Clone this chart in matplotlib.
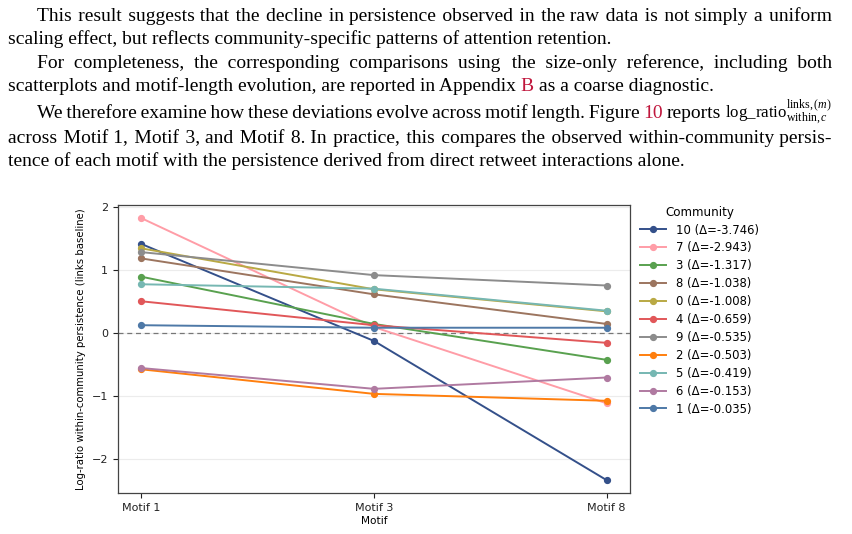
import matplotlib
matplotlib.use("Agg")
import matplotlib.pyplot as plt

# ---------------- data ----------------
motifs = ["Motif 1", "Motif 3", "Motif 8"]
communities = ["10", "7", "3", "8", "0", "4", "9", "2", "5", "6", "1"]
deltas = [-3.746, -2.943, -1.317, -1.038, -1.008, -0.659, -0.535, -0.503, -0.419, -0.153, -0.035]
vals_c10 = [1.42, -0.12, -2.33]
vals_c7 = [1.83, 0.10, -1.11]
vals_c3 = [0.90, 0.15, -0.42]
vals_c8 = [1.19, 0.62, 0.15]
vals_c0 = [1.35, 0.70, 0.35]
vals_c4 = [0.51, 0.13, -0.15]
vals_c9 = [1.29, 0.925, 0.76]
vals_c2 = [-0.57, -0.96, -1.07]
vals_c5 = [0.78, 0.71, 0.36]
vals_c6 = [-0.55, -0.88, -0.70]
vals_c1 = [0.13, 0.09, 0.09]
series = [vals_c10, vals_c7, vals_c3, vals_c8, vals_c0, vals_c4, vals_c9, vals_c2, vals_c5, vals_c6, vals_c1]
colors = ["#34508a", "#ff9da7", "#59a14f", "#9c755f", "#b9a944", "#e15759",
          "#8c8c8c", "#ff7f0e", "#76b7b2", "#b07aa1", "#4e79a7"]

# ---------------- figure ----------------
W, H = 852, 534
plt.rcParams['mathtext.fontset'] = 'custom'
plt.rcParams['mathtext.rm'] = 'Liberation Serif'
plt.rcParams['mathtext.it'] = 'Liberation Serif:italic'
plt.rcParams['mathtext.bf'] = 'Liberation Serif:bold'
fig = plt.figure(figsize=(W / 100, H / 100), dpi=100)
renderer = fig.canvas.get_renderer()

RED = "#c0163c"
FAM = ["Liberation Serif", "DejaVu Serif"]
math_tok = r"$\mathrm{log\_ratio}^{\mathrm{links},(m)}_{\mathrm{within},c}$"

# each line: (segments [(text, color)], indent, justified, baseline_px)
paragraph_lines = [
    ([("This result suggests that the decline in persistence observed in the raw data is not simply a uniform", "k")], True, True, 21),
    ([("scaling effect, but reflects community-specific patterns of attention retention.", "k")], False, False, 44),
    ([("For completeness, the corresponding comparisons using the size-only reference, including both", "k")], True, True, 68),
    ([("scatterplots and motif-length evolution, are reported in Appendix", "k"), ("B", RED),
      ("as a coarse diagnostic.", "k")], False, False, 91),
    ([("We therefore examine how these deviations evolve across motif length. Figure", "k"), ("10", RED),
      ("reports", "k"), (math_tok, "k")], True, True, 118),
    ([("across Motif 1, Motif 3, and Motif 8. In practice, this compares the observed within-community persis-", "k")], False, True, 143),
    ([("tence of each motif with the persistence derived from direct retweet interactions alone.", "k")], False, False, 166),
]

X0, X1, INDENT = 8, 832, 37
TARGET_LAST = 672.0


def measure(s, fs):
    t = fig.text(0, 0, s, fontsize=fs, family=FAM)
    w = t.get_window_extent(renderer).width
    t.remove()
    return w


def split_words(s):
    return [s] if s.startswith("$") else s.split(" ")


def space_width(ch, fs):
    return measure("a" + ch + "a", fs) - measure("aa", fs)


probe_fs = 12.0
FS = probe_fs * TARGET_LAST / measure(paragraph_lines[-1][0][0][0], probe_fs)

hair = "\u200a"
hair_w = space_width(hair, FS)
if hair_w < 0.3:
    hair = "\u2009"
    hair_w = space_width(hair, FS)

space_options = [" ", "\u2009", "\u2006"]

for segs, indent, justified, base in paragraph_lines:
    start = INDENT if indent else X0
    avail = X1 - start
    seg_words = [split_words(s) for s, _ in segs]
    n_gaps = sum(len(ws) - 1 for ws in seg_words) + len(segs) - 1
    seg_fs = [FS] * len(segs)

    def natural(sp):
        sw = space_width(sp, FS)
        return (sum(measure(sp.join(ws), f) for ws, f in zip(seg_words, seg_fs))
                + sw * (len(segs) - 1))

    sp = " "
    nat = natural(sp)
    if justified:
        for cand in space_options[:2]:
            sp = cand
            nat = natural(sp)
            if nat <= avail:
                break
        if nat > avail:
            # shrink the inline math so that the line fits its measure
            for i, (s, _) in enumerate(segs):
                if s.startswith("$"):
                    mw = measure(s, FS)
                    seg_fs[i] = FS * (mw - (nat - avail)) / mw
            nat = natural(sp)
    sw = space_width(sp, FS)
    extra = max(0.0, avail - nat) if justified else 0.0
    per = extra / hair_w / n_gaps if n_gaps else 0.0
    counts = [round((i + 1) * per) - round(i * per) for i in range(n_gaps)]
    gi = 0
    x = start
    for si, ((s, col), ws) in enumerate(zip(segs, seg_words)):
        parts = [ws[0]]
        for w_ in ws[1:]:
            parts.append(sp + hair * counts[gi] + w_)
            gi += 1
        txt = "".join(parts)
        t = fig.text(x / W, 1 - base / H, txt, fontsize=seg_fs[si], family=FAM, color=col,
                     va="baseline", ha="left")
        x += t.get_window_extent(renderer).width
        if si < len(segs) - 1:
            x += sw + counts[gi] * hair_w
            gi += 1

# ---------------- chart ----------------
ax = fig.add_axes([118 / W, (H - 493.3) / H, (630 - 118) / W, (493.3 - 205) / H])
xs = list(range(len(motifs)))
for comm, d, vals, col in zip(communities, deltas, series, colors):
    ax.plot(xs, vals, marker="o", markersize=4.2, lw=1.4, color=col,
            label=f"{comm} (\u0394={d:.3f})", zorder=3)

ax.axhline(0, color="#777777", lw=0.9, ls=(0, (4, 3)), zorder=1.5)
ax.set_xticks(xs)
ax.set_xticklabels(motifs)
ax.set_yticks([-2, -1, 0, 1, 2])
ax.grid(axis="y", color="#ececec", lw=0.8)
ax.set_axisbelow(True)
ax.tick_params(labelsize=8, length=3.5, width=0.8, colors="#222222")
for s in ax.spines.values():
    s.set_color("#444444")
    s.set_linewidth(0.9)
ax.set_xlabel("Motif", fontsize=7.6, labelpad=2)
ax.set_ylabel("Log-ratio within-community persistence (links baseline)", fontsize=7.3, labelpad=4)

leg = ax.legend(title="Community", loc="upper left", bbox_to_anchor=(1.004, 1.026),
                frameon=False, fontsize=8.4, title_fontsize=8.6, labelspacing=0.42,
                handlelength=2.2, handletextpad=0.9, borderaxespad=0.3)

fig.savefig("out.png", dpi=100)
